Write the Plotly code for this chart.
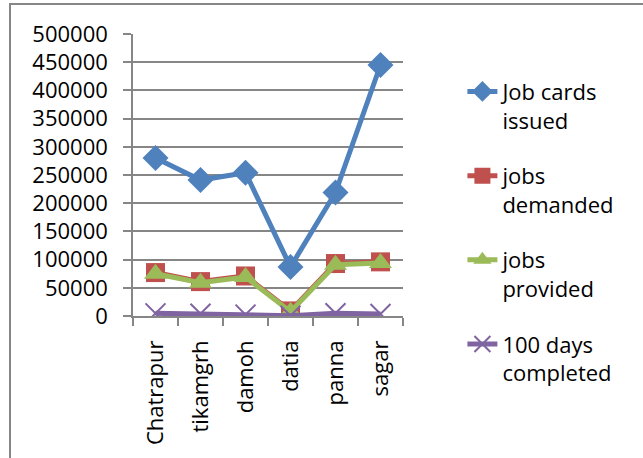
import plotly.graph_objects as go

districts = ["Chatrapur", "tikamgrh", "damoh", "datia", "panna", "sagar"]
job_cards_issued = [280000, 241000, 254000, 87000, 219000, 445000]
jobs_demanded = [77000, 61000, 71000, 9000, 93000, 96000]
jobs_provided = [75000, 59000, 69000, 7500, 91000, 94000]
days_100_completed = [4700, 4000, 2500, 500, 5000, 3500]
y_ticks = [0, 50000, 100000, 150000, 200000, 250000, 300000, 350000, 400000, 450000, 500000]

series = [
    ("Job cards<br>issued", job_cards_issued, "#4F81BD", "diamond", 20),
    ("jobs<br>demanded", jobs_demanded, "#C0504D", "square", 19),
    ("jobs<br>provided", jobs_provided, "#9BBB59", "triangle-up", 20),
    ("100 days<br>completed", days_100_completed, "#8064A2", "x-thin", 20),
]

FONT = "Open Sans"
fig = go.Figure()
for i, (name, vals, color, sym, size) in enumerate(series):
    fig.add_trace(go.Scatter(
        x=districts, y=vals, name=name, mode="lines+markers",
        legendgroup=f"g{i}",
        line=dict(color=color, width=5),
        marker=dict(symbol=sym, size=size, color=color,
                    line=dict(color=color, width=2 if sym == "x-thin" else 0)),
    ))

fig.update_layout(
    width=643, height=458,
    margin=dict(l=133, r=240, t=34, b=142, autoexpand=False),
    paper_bgcolor="white", plot_bgcolor="white",
    font=dict(family=FONT, size=22, color="black"),
    showlegend=True,
    legend=dict(x=1.22, y=0.87, xanchor="left", yanchor="top",
                font=dict(family=FONT, size=22, color="black"),
                valign="top", tracegroupgap=24, bgcolor="rgba(0,0,0,0)",
                maxheight=440),
    xaxis=dict(type="category", range=[-0.5, 5.5], tickangle=-90,
               showline=True, linecolor="#868686", linewidth=1.5,
               ticks="outside", tickson="boundaries", ticklen=8, tickcolor="#868686",
               tickwidth=1.5, showgrid=False, ticklabelstandoff=14,
               tickfont=dict(family=FONT, size=22, color="black")),
    yaxis=dict(range=[0, 500000], tickvals=y_ticks, ticktext=[str(v) for v in y_ticks],
               showline=True, linecolor="#868686", linewidth=1.5,
               ticks="outside", ticklen=8, tickcolor="#868686", tickwidth=1.5,
               showgrid=True, gridcolor="#868686", gridwidth=1.5, zeroline=False,
               ticklabelstandoff=11,
               tickfont=dict(family=FONT, size=22, color="black")),
    shapes=[dict(type="rect", xref="paper", yref="paper",
                 x0=(10 - 133) / 270, x1=(660 - 133) / 270,
                 y0=(316 - 470) / 282, y1=(316 - 4) / 282,
                 line=dict(color="#868686", width=2), layer="below")],
)

fig.write_html("out.html", config={"displayModeBar": False},
               post_script="document.body.style.margin='0';")
